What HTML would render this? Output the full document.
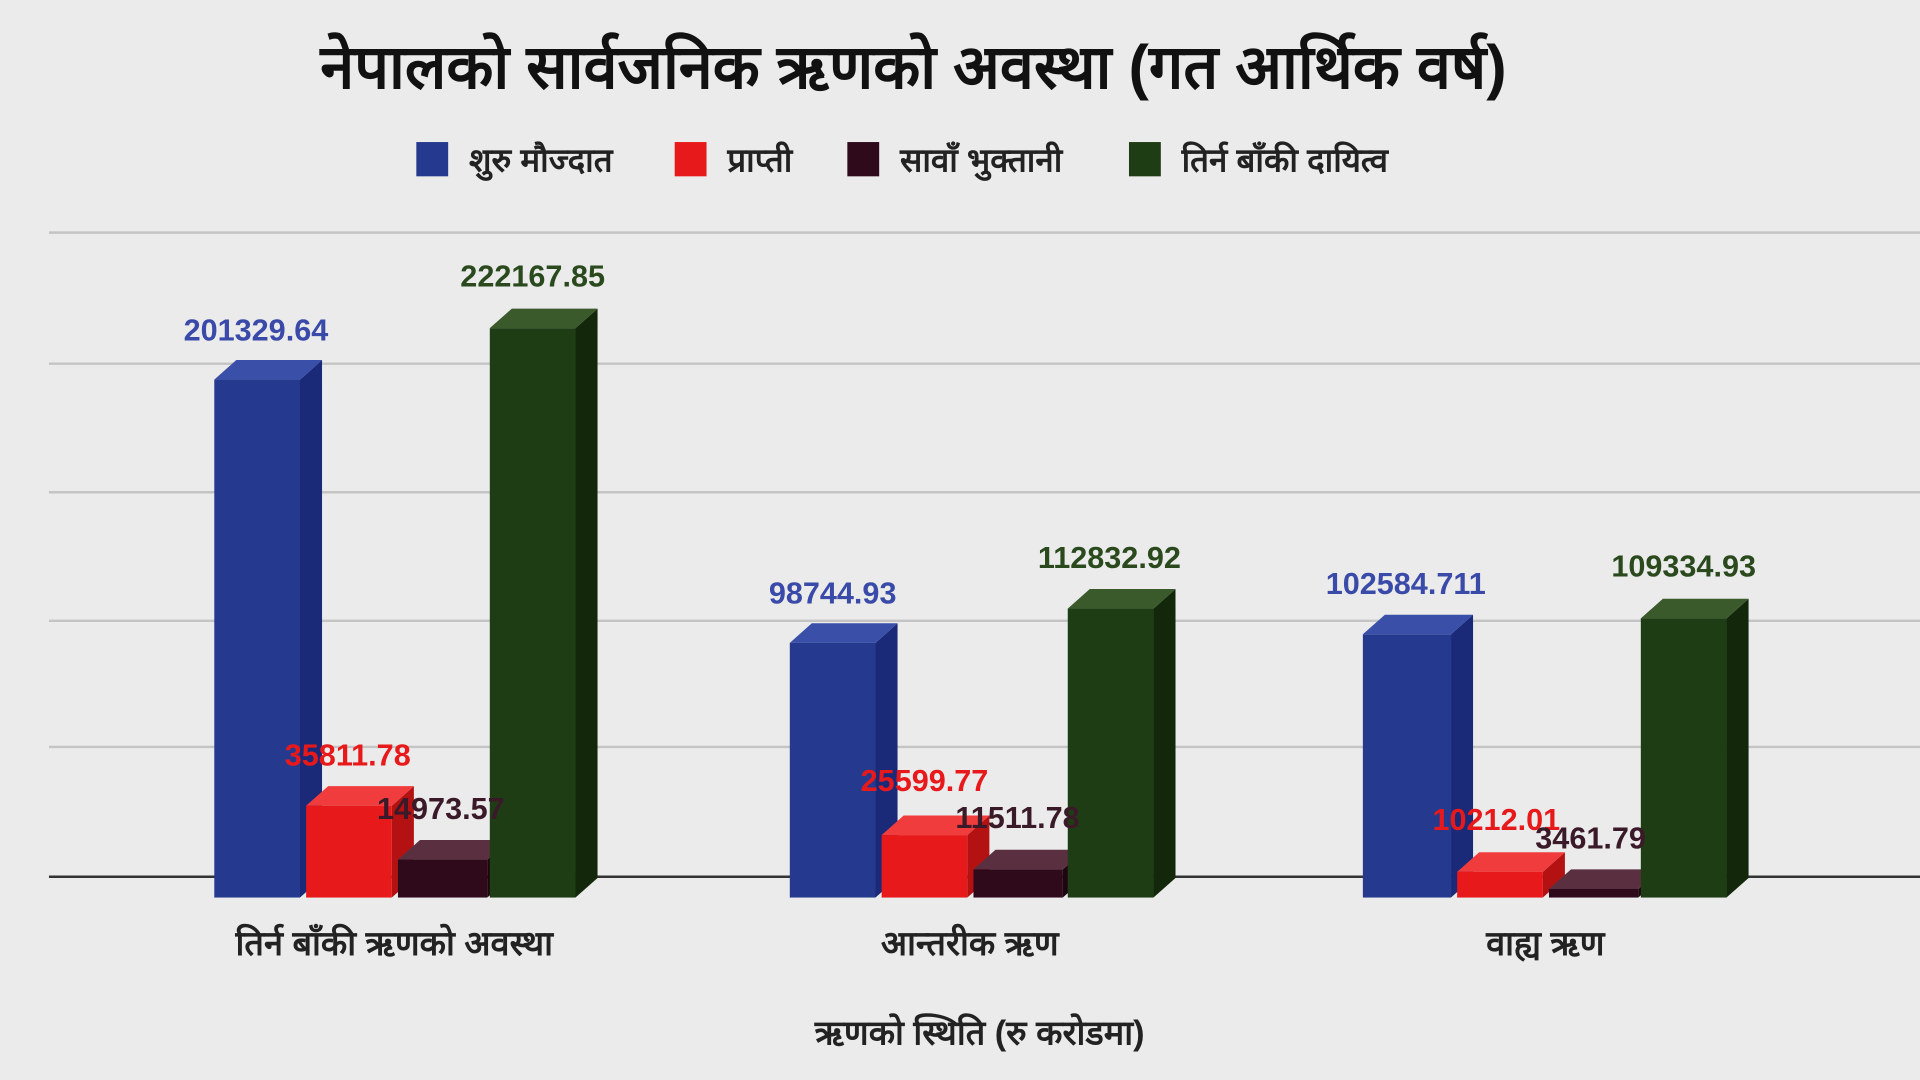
<!DOCTYPE html>
<html><head><meta charset="utf-8"><style>
html,body{margin:0;padding:0;background:#ebebeb;width:1920px;height:1080px;overflow:hidden}
svg{display:block}
text{font-family:"Liberation Sans","DejaVu Sans",sans-serif}
</style></head><body>
<svg width="1920" height="1080" viewBox="0 0 1568 882" xmlns="http://www.w3.org/2000/svg">
<rect width="1568" height="882" fill="#ebebeb"/>
<text x="746" y="72" text-anchor="middle" font-size="50" font-weight="bold" fill="#111">नेपालको सार्वजनिक ऋणको अवस्था (गत आर्थिक वर्ष)</text>
<g font-size="27" fill="#222" font-weight="bold">
<rect x="340" y="116" width="26" height="28" fill="#253a8f"/><text x="383" y="140">शुरु मौज्दात</text>
<rect x="551" y="116" width="26" height="28" fill="#e8191a"/><text x="594" y="140">प्राप्ती</text>
<rect x="692" y="116" width="26" height="28" fill="#2e0a1a"/><text x="735" y="140">सावाँ भुक्तानी</text>
<rect x="922" y="116" width="26" height="28" fill="#1f3d14"/><text x="965" y="140">तिर्न बाँकी दायित्व</text>
</g>
<g stroke="#c4c4c4" stroke-width="2">
<line x1="40" y1="190" x2="1568" y2="190"/><line x1="40" y1="297" x2="1568" y2="297"/>
<line x1="40" y1="402" x2="1568" y2="402"/><line x1="40" y1="507" x2="1568" y2="507"/>
<line x1="40" y1="610" x2="1568" y2="610"/>
</g>
<line x1="40" y1="716" x2="1568" y2="716" stroke="#333" stroke-width="2"/>

<polygon points="245,310 263,294 263,717 245,733" fill="#1a2a78"/><polygon points="175,310 193,294 263,294 245,310" fill="#3a4fa8"/><rect x="175" y="310" width="70" height="423" fill="#253a8f"/>
<polygon points="320,658 338,642 338,717 320,733" fill="#b41212"/><polygon points="250,658 268,642 338,642 320,658" fill="#f03c3c"/><rect x="250" y="658" width="70" height="75" fill="#e8191a"/>
<polygon points="398,702 416,686 416,717 398,733" fill="#1e0610"/><polygon points="325,702 343,686 416,686 398,702" fill="#5a3040"/><rect x="325" y="702" width="73" height="31" fill="#2e0a1a"/>
<polygon points="470,268 488,252 488,717 470,733" fill="#13280b"/><polygon points="400,268 418,252 488,252 470,268" fill="#3a5a2c"/><rect x="400" y="268" width="70" height="465" fill="#1f3d14"/>
<polygon points="715,525 733,509 733,717 715,733" fill="#1a2a78"/><polygon points="645,525 663,509 733,509 715,525" fill="#3a4fa8"/><rect x="645" y="525" width="70" height="208" fill="#253a8f"/>
<polygon points="790,682 808,666 808,717 790,733" fill="#b41212"/><polygon points="720,682 738,666 808,666 790,682" fill="#f03c3c"/><rect x="720" y="682" width="70" height="51" fill="#e8191a"/>
<polygon points="868,710 886,694 886,717 868,733" fill="#1e0610"/><polygon points="795,710 813,694 886,694 868,710" fill="#5a3040"/><rect x="795" y="710" width="73" height="23" fill="#2e0a1a"/>
<polygon points="942,497 960,481 960,717 942,733" fill="#13280b"/><polygon points="872,497 890,481 960,481 942,497" fill="#3a5a2c"/><rect x="872" y="497" width="70" height="236" fill="#1f3d14"/>
<polygon points="1185,518 1203,502 1203,717 1185,733" fill="#1a2a78"/><polygon points="1113,518 1131,502 1203,502 1185,518" fill="#3a4fa8"/><rect x="1113" y="518" width="72" height="215" fill="#253a8f"/>
<polygon points="1260,712 1278,696 1278,717 1260,733" fill="#b41212"/><polygon points="1190,712 1208,696 1278,696 1260,712" fill="#f03c3c"/><rect x="1190" y="712" width="70" height="21" fill="#e8191a"/>
<polygon points="1338,726 1356,710 1356,717 1338,733" fill="#1e0610"/><polygon points="1265,726 1283,710 1356,710 1338,726" fill="#5a3040"/><rect x="1265" y="726" width="73" height="7" fill="#2e0a1a"/>
<polygon points="1410,505 1428,489 1428,717 1410,733" fill="#13280b"/><polygon points="1340,505 1358,489 1428,489 1410,505" fill="#3a5a2c"/><rect x="1340" y="505" width="70" height="228" fill="#1f3d14"/>

<g font-size="25" font-weight="bold">
<text x="209" y="278" text-anchor="middle" fill="#3a4aa8">201329.64</text>
<text x="435" y="234" text-anchor="middle" fill="#2a4a1e">222167.85</text>
<text x="284" y="625" text-anchor="middle" fill="#e8191a">35811.78</text>
<text x="360" y="669" text-anchor="middle" fill="#3a1a28">14973.57</text>
<text x="680" y="493" text-anchor="middle" fill="#3a4aa8">98744.93</text>
<text x="906" y="464" text-anchor="middle" fill="#2a4a1e">112832.92</text>
<text x="755" y="646" text-anchor="middle" fill="#e8191a">25599.77</text>
<text x="831" y="676" text-anchor="middle" fill="#3a1a28">11511.78</text>
<text x="1148" y="485" text-anchor="middle" fill="#3a4aa8">102584.711</text>
<text x="1375" y="471" text-anchor="middle" fill="#2a4a1e">109334.93</text>
<text x="1222" y="678" text-anchor="middle" fill="#e8191a">10212.01</text>
<text x="1299" y="693" text-anchor="middle" fill="#3a1a28">3461.79</text>
</g>
<g font-size="28" fill="#222" text-anchor="middle" font-weight="bold">
<text x="322" y="780">तिर्न बाँकी ऋणको अवस्था</text>
<text x="792" y="780">आन्तरीक ऋण</text>
<text x="1262" y="780">वाह्य ऋण</text>
<text x="800" y="853">ऋणको स्थिति (रु करोडमा)</text>
</g>
</svg>
</body></html>
